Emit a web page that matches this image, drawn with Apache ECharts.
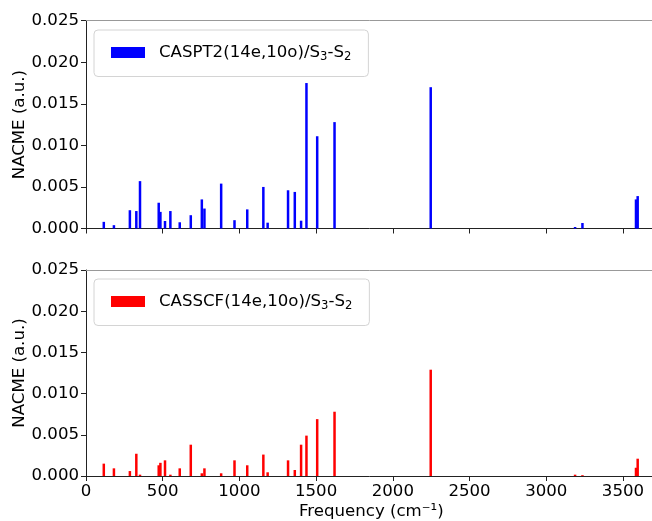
<!DOCTYPE html>
<html>
<head>
<meta charset="utf-8">
<script src="https://cdn.jsdelivr.net/npm/echarts@6/dist/echarts.min.js"></script>
<style>html,body{margin:0;padding:0;background:#fff}#c{width:652px;height:521px}</style>
</head>
<body>
<div id="c"></div>
<script>
// Frequencies (cm^-1)
const freqs = [116, 182, 286, 328, 352, 474, 485, 515, 550, 611, 683, 755, 772, 881, 968, 1051, 1156, 1184, 1317, 1361, 1402, 1437, 1507, 1620, 2247, 3188, 3236, 3585, 3596];
// NACME values, CASPT2(14e,10o)/S3-S2
const caspt2Values = [0.0008, 0.0004, 0.0022, 0.0021, 0.0057, 0.0031, 0.0020, 0.0009, 0.0021, 0.00075, 0.0016, 0.0035, 0.0024, 0.0054, 0.0010, 0.0023, 0.0050, 0.0007, 0.0046, 0.0044, 0.00094, 0.0175, 0.0111, 0.0128, 0.0170, 0.00018, 0.00066, 0.0035, 0.0039];
// NACME values, CASSCF(14e,10o)/S3-S2
const casscfValues = [0.0015, 0.00093, 0.0006, 0.0027, 0.00016, 0.0013, 0.0016, 0.0019, 0.00016, 0.00093, 0.0038, 0.00033, 0.00093, 0.00033, 0.0019, 0.0013, 0.0026, 0.00045, 0.0019, 0.00073, 0.0038, 0.0049, 0.0069, 0.0078, 0.0129, 0.00016, 0.0001, 0.0010, 0.0021];
const xTicks = [0, 500, 1000, 1500, 2000, 2500, 3000, 3500];
const yTicks = [0.000, 0.005, 0.010, 0.015, 0.020, 0.025];
const seriesNames = ['CASPT2(14e,10o)/S3-S2', 'CASSCF(14e,10o)/S3-S2'];
const legendLabels = [
  '{t|CASPT2(14e,10o)/S}{s|3}{t|-S}{s|2}',
  '{t|CASSCF(14e,10o)/S}{s|3}{t|-S}{s|2}'
];

const FONT = 'DejaVu Sans';
const FS = 16.6;
const XMAX = 3720;
const chart = echarts.init(document.getElementById('c'), null, {renderer: 'canvas'});

function xAxisDef(gridIndex, showLabels) {
  return {
    type: 'value', gridIndex, min: xTicks[0], max: XMAX, interval: 500,
    axisLine: {show: true, lineStyle: {color: '#222', width: 1}},
    axisTick: {show: true, length: 5, lineStyle: {color: '#222'}, customValues: xTicks},
    axisLabel: {show: showLabels, fontFamily: FONT, fontSize: FS, color: '#000', margin: 7,
                customValues: xTicks, formatter: v => String(Math.round(v))},
    splitLine: {show: false},
    name: showLabels ? 'Frequency (cm\u207B\u00B9)' : '',
    nameLocation: 'middle', nameGap: 27, nameMoveOverlap: false,
    nameTextStyle: {fontFamily: FONT, fontSize: FS, color: '#000'}
  };
}
function topSpine(gridIndex) {
  return {
    type: 'value', gridIndex, position: 'top', min: xTicks[0], max: XMAX,
    axisLine: {show: true, lineStyle: {color: '#999', width: 1}},
    axisTick: {show: false}, axisLabel: {show: false}, splitLine: {show: false}
  };
}
function yAxisDef(gridIndex) {
  return {
    type: 'value', gridIndex, min: yTicks[0], max: yTicks[yTicks.length - 1], interval: 0.005,
    axisLine: {show: true, lineStyle: {color: '#222', width: 1}},
    axisTick: {show: true, length: 5, lineStyle: {color: '#222'}},
    axisLabel: {fontFamily: FONT, fontSize: FS, color: '#000', margin: 7, formatter: v => v.toFixed(3)},
    splitLine: {show: false},
    name: 'NACME (a.u.)', nameLocation: 'middle', nameGap: 58, nameMoveOverlap: false,
    nameTextStyle: {fontFamily: FONT, fontSize: FS, color: '#000'}
  };
}
function legendDef(i, top) {
  return {
    show: true, data: [seriesNames[i]], left: 94, top: top, orient: 'horizontal',
    itemWidth: 34, itemHeight: 11, icon: 'rect', selectedMode: false,
    backgroundColor: '#fff', borderColor: '#d4d4d4', borderWidth: 1, borderRadius: 4,
    padding: [14, 17, 14, 17],
    formatter: () => legendLabels[i],
    textStyle: {
      fontFamily: FONT, fontSize: FS, color: '#000', padding: [0, 0, 0, 9],
      rich: {
        t: {fontFamily: FONT, fontSize: FS, color: '#000'},
        s: {fontFamily: FONT, fontSize: 11.6, color: '#000', padding: [8, 0, 0, 0]}
      }
    }
  };
}

chart.setOption({
  animation: false,
  backgroundColor: '#fff',
  grid: [
    {left: 86, top: 20.7, width: 570.7, height: 207.8, show: false, containLabel: false, outerBoundsMode: 'none'},
    {left: 86, top: 270, width: 570.7, height: 206, show: false, containLabel: false, outerBoundsMode: 'none'}
  ],
  xAxis: [xAxisDef(0, false), xAxisDef(1, true), topSpine(0), topSpine(1)],
  yAxis: [yAxisDef(0), yAxisDef(1)],
  legend: [legendDef(0, 30), legendDef(1, 279)],
  series: [
    {name: seriesNames[0], type: 'bar', xAxisIndex: 0, yAxisIndex: 0, barWidth: 2.5,
     itemStyle: {color: '#0000ff'}, data: freqs.map((f, i) => [f, caspt2Values[i]])},
    {name: seriesNames[1], type: 'bar', xAxisIndex: 1, yAxisIndex: 1, barWidth: 2.5,
     itemStyle: {color: '#ff0000'}, data: freqs.map((f, i) => [f, casscfValues[i]])}
  ]
});
</script>
</body>
</html>
